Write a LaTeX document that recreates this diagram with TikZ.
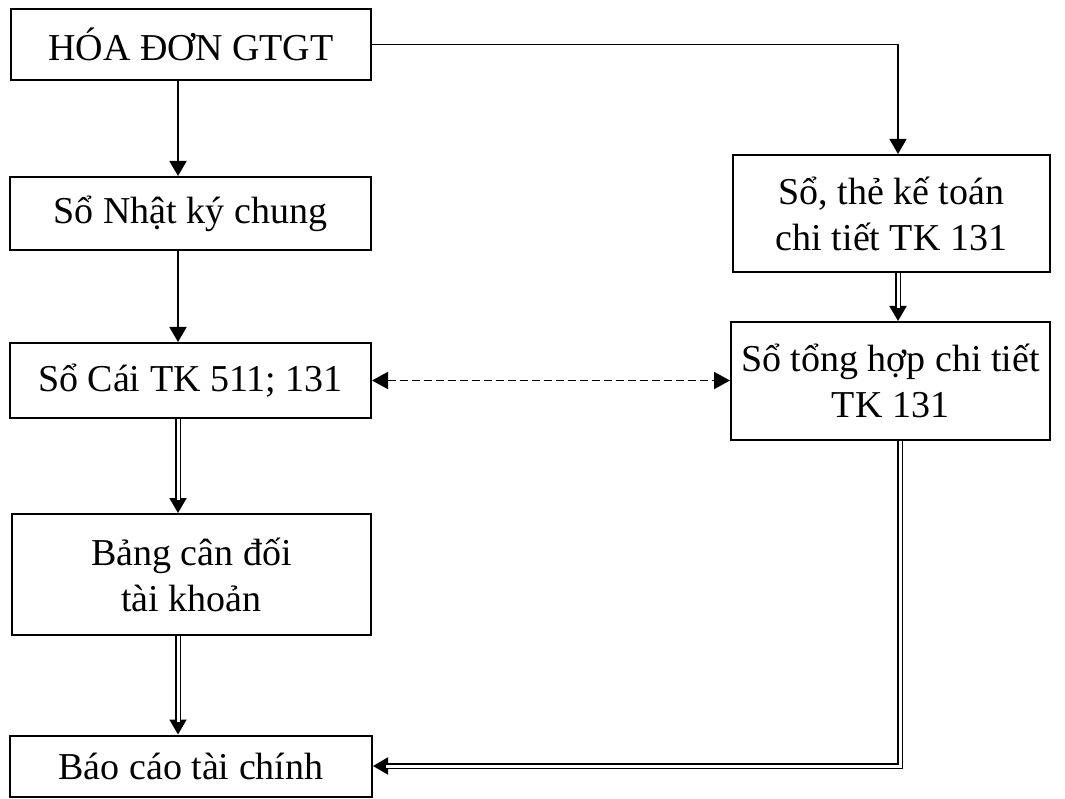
\documentclass[tikz,border=0pt]{standalone}
\usepackage{fontspec}
\setmainfont{Liberation Serif}
\usetikzlibrary{arrows.meta,calc,backgrounds}
\begin{document}
\begin{tikzpicture}[x=1pt,y=1pt,
  box/.style={draw, line width=2pt, rectangle, inner sep=0pt, align=center,
    font=\fontsize{38}{46}\selectfont},
  tip/.style={-{Triangle[length=15pt,width=17pt]}},
  arr/.style={tip, line width=1.9pt},
  thinarr/.style={tip, line width=1.3pt},
  dblline/.style={double, double distance=3pt, line width=1.7pt, shorten >=13pt},
  dashline/.style={{Triangle[length=16pt,width=17pt]}-{Triangle[length=16pt,width=17pt]},
    line width=1.9pt, dash pattern=on 8pt off 4pt}]
\useasboundingbox (0,0) rectangle (1065,-799);

% boxes
\node[box, minimum width=360pt, minimum height=71pt] (hd) at (191,-44.5) {HÓA ĐƠN GTGT};
\node[box, minimum width=361pt, minimum height=73pt] (nkc) at (190.5,-213.5) {Sổ Nhật ký chung};
\node[box, minimum width=361pt, minimum height=75pt] (sc) at (190.5,-380.5) {Sổ Cái TK 511; 131};
\node[box, minimum width=359pt, minimum height=121pt] (cd) at (191.5,-574.5) {Bảng cân đối\\ tài khoản};
\node[box, minimum width=362pt, minimum height=61pt] (bc) at (191,-766) {Báo cáo tài chính};
\node[box, minimum width=317pt, minimum height=117pt] (ct) at (891.5,-213.5) {Sổ, thẻ kế toán\\chi tiết TK 131};
\node[box, minimum width=319pt, minimum height=118pt] (th) at (890.5,-381) {Sổ tổng hợp chi tiết\\TK 131};

% connector columns
\coordinate (cL) at (178,0);
\coordinate (cR) at (898,0);
\coordinate (cR2) at (900,0);

\begin{scope}[on background layer]
  % single arrows
  \draw[thinarr] (hd.east) -| (ct.north -| cR);
  \draw[arr] (hd.south -| cL) -- (nkc.north -| cL);
  \draw[arr] (nkc.south -| cL) -- (sc.north -| cL);
  % double arrows: tip underneath, double shaft on top
  \draw[arr] (sc.south -| cL) -- (cd.north -| cL);
  \draw[dblline] (sc.south -| cL) -- (cd.north -| cL);
  \draw[arr] (cd.south -| cL) -- (bc.north -| cL);
  \draw[dblline] (cd.south -| cL) -- (bc.north -| cL);
  \draw[arr] (ct.south -| cR) -- (th.north -| cR);
  \draw[dblline] (ct.south -| cR) -- (th.north -| cR);
  \draw[arr] (th.south -| cR2) |- (bc.east);
  \draw[dblline] (th.south -| cR2) |- (bc.east);
  % dashed two-way link
  \draw[dashline] (sc.east) -- (sc.east -| th.west);
\end{scope}
\end{tikzpicture}
\end{document}
